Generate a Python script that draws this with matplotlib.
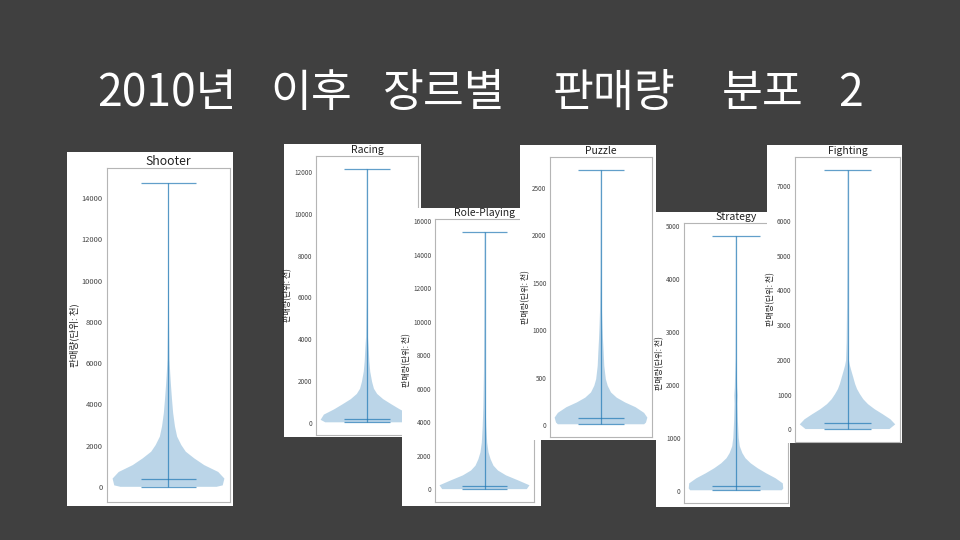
import matplotlib
matplotlib.use('Agg')
import matplotlib.pyplot as plt
from matplotlib.patches import Rectangle

plt.rcParams['font.family'] = ['Noto Sans CJK KR', 'DejaVu Sans']

# ---------------- data ----------------
title_words = ['2010년', '이후', '장르별', '판매량', '분포', '2']
ylabel_text = '판매량(단위: 천)'
genres = ['Shooter', 'Racing', 'Role-Playing', 'Puzzle', 'Strategy', 'Fighting']

# min / median / max of sales (unit: thousand)
sales_min = [10, 10, 10, 10, 10, 10]
sales_median = [410, 170, 200, 77, 92, 174]
sales_max = [14720, 12180, 15350, 2690, 4810, 7460]
tick_steps = [2000, 2000, 2000, 500, 1000, 1000]
tick_tops = [14000, 12000, 16000, 2500, 5000, 7000]

# violin outline: sales value and relative density width
shooter_vals = [10, 80, 410, 730, 1060, 1390, 1710, 2030, 2440, 2930, 3590, 4240, 4900, 5550, 6200, 8000, 11000, 14720]
shooter_dens = [0.86, 0.97, 1.0, 0.89, 0.64, 0.46, 0.31, 0.23, 0.155, 0.116, 0.083, 0.063, 0.045, 0.03, 0.018, 0.01, 0.006, 0.004]

racing_vals = [10, 130, 380, 630, 870, 1120, 1370, 1620, 1950, 2440, 2940, 3600, 4100, 6000, 9000, 12180]
racing_dens = [0.9, 1.0, 0.93, 0.71, 0.53, 0.35, 0.22, 0.15, 0.11, 0.07, 0.05, 0.035, 0.02, 0.01, 0.006, 0.004]

roleplaying_vals = [10, 240, 530, 830, 1120, 1410, 1800, 2200, 2780, 3760, 4940, 7000, 11000, 15350]
roleplaying_dens = [0.94, 1.0, 0.75, 0.48, 0.3, 0.2, 0.135, 0.09, 0.06, 0.04, 0.025, 0.012, 0.007, 0.004]

puzzle_vals = [10, 28, 80, 130, 190, 240, 290, 345, 415, 485, 625, 765, 905, 1040, 1190, 1600, 2200, 2690]
puzzle_dens = [0.93, 0.97, 1.0, 0.93, 0.745, 0.52, 0.34, 0.216, 0.145, 0.104, 0.071, 0.058, 0.043, 0.032, 0.022, 0.012, 0.007, 0.004]

strategy_vals = [10, 45, 140, 235, 330, 425, 520, 615, 710, 840, 1000, 1320, 1640, 1800, 1950, 2500, 3600, 4810]
strategy_dens = [0.97, 1.0, 0.99, 0.84, 0.64, 0.46, 0.31, 0.2, 0.135, 0.08, 0.057, 0.04, 0.03, 0.036, 0.025, 0.01, 0.006, 0.004]

fighting_vals = [10, 145, 290, 435, 580, 725, 870, 1015, 1160, 1305, 1500, 1690, 1840, 1985, 2500, 3500, 5500, 7460]
fighting_dens = [0.88, 1.0, 0.9, 0.74, 0.57, 0.43, 0.33, 0.26, 0.2, 0.16, 0.12, 0.08, 0.05, 0.03, 0.018, 0.01, 0.006, 0.004]

profiles = [
    (shooter_vals, shooter_dens),
    (racing_vals, racing_dens),
    (roleplaying_vals, roleplaying_dens),
    (puzzle_vals, puzzle_dens),
    (strategy_vals, strategy_dens),
    (fighting_vals, fighting_dens),
]

# ---------------- layout (pixels: left, top, right, bottom) ----------------
W, H = 960, 540
panel_boxes = [
    (67, 152, 233, 506),
    (284, 144, 421, 437),
    (402, 208, 541, 506),
    (520, 145, 656, 440),
    (656, 212, 790, 507),
    (767, 145, 902, 443),
]
axes_boxes = [
    (107, 168, 230, 502),
    (316, 156, 418, 435),
    (435, 219, 534, 502),
    (550, 157, 652, 437),
    (684, 223, 788, 503),
    (795, 157, 900, 442),
]
font_scale = [1.18, 1.0, 1.0, 1.0, 1.0, 1.0]
title_x = [97, 270, 383, 553, 722, 838]

BG = '#404040'
C0 = '#1f77b4'


def frac(box):
    l, t, r, b = box
    return [l / W, 1 - b / H, (r - l) / W, (b - t) / H]


fig = plt.figure(figsize=(W / 100, H / 100), dpi=100, facecolor=BG)

for word, x in zip(title_words, title_x):
    fig.text(x / W, 1 - 93 / H, word, color='white', fontsize=32,
             fontweight='light', ha='left', va='center')

for i, g in enumerate(genres):
    k = font_scale[i]
    l, b, w, h = frac(panel_boxes[i])
    fig.add_artist(Rectangle((l, b), w, h, transform=fig.transFigure,
                             facecolor='white', edgecolor='none', zorder=2 * i + 1))
    ax = fig.add_axes(frac(axes_boxes[i]), zorder=2 * i + 2)
    ax.set_facecolor('white')
    vals, dens = profiles[i]
    left = [1 - 0.25 * d for d in dens]
    right = [1 + 0.25 * d for d in dens]
    ax.fill_betweenx(vals, left, right, facecolor=C0, alpha=0.3, edgecolor='none')
    ax.vlines(1, sales_min[i], sales_max[i], color=C0, lw=0.9, alpha=0.7)
    ax.hlines([sales_min[i], sales_median[i], sales_max[i]], 1 - 0.125, 1 + 0.125,
              color=C0, lw=0.9, alpha=0.7)
    rng = sales_max[i] - sales_min[i]
    ax.set_ylim(sales_min[i] - 0.05 * rng, sales_max[i] + 0.05 * rng)
    ax.set_xlim(0.725, 1.275)
    ax.set_xticks([])
    ax.set_yticks(list(range(0, tick_tops[i] + 1, tick_steps[i])))
    ax.tick_params(axis='y', length=0, pad=2.5 * k, labelsize=4.6 * k,
                   labelcolor='#444444')
    for s in ax.spines.values():
        s.set_color('#b5b5b5')
        s.set_linewidth(0.8)
    ax.set_title(g, fontsize=7.5 * k, pad=2, color='#222222')
    ax.set_ylabel(ylabel_text, fontsize=5.8 * k, labelpad=1.5 * k, color='#222222')

fig.savefig('out.png', dpi=100, facecolor=BG)
